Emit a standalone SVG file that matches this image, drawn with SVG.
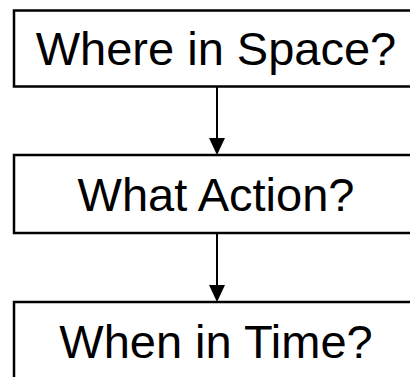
<svg xmlns="http://www.w3.org/2000/svg" width="410" height="377" viewBox="0 0 410 377">
  <style>
    .box { fill: #ffffff; stroke: #000000; stroke-width: 2.5; }
    .label { font-family: "Liberation Sans", Arial, sans-serif; font-size: 47px; fill: #000000; text-anchor: middle; }
    .link { stroke: #000000; stroke-width: 2; fill: none; }
  </style>
  <defs>
    <marker id="arrow" markerUnits="userSpaceOnUse" markerWidth="16" markerHeight="17" refX="8" refY="17" orient="auto-start-reverse" viewBox="0 0 16 17">
      <path d="M0,0 L16,0 L8,17 Z" fill="#000000"/>
    </marker>
  </defs>
  <rect width="410" height="377" fill="#ffffff"/>

  <g id="connectors">
    <line class="link" x1="217" y1="87" x2="217" y2="138" />
    <path d="M209,138 L225,138 L217,155 Z" fill="#000000"/>
    <line class="link" x1="217" y1="233" x2="217" y2="285" />
    <path d="M209,285 L225,285 L217,302 Z" fill="#000000"/>
  </g>

  <g id="node-space">
    <rect class="box" x="14" y="10.5" width="410" height="76"/>
    <text class="label" x="216" y="65">Where in Space?</text>
  </g>

  <g id="node-action">
    <rect class="box" x="14" y="155" width="410" height="78"/>
    <text class="label" x="216" y="211">What Action?</text>
  </g>

  <g id="node-time">
    <rect class="box" x="14" y="302" width="410" height="90"/>
    <text class="label" x="216" y="358">When in Time?</text>
  </g>
</svg>
